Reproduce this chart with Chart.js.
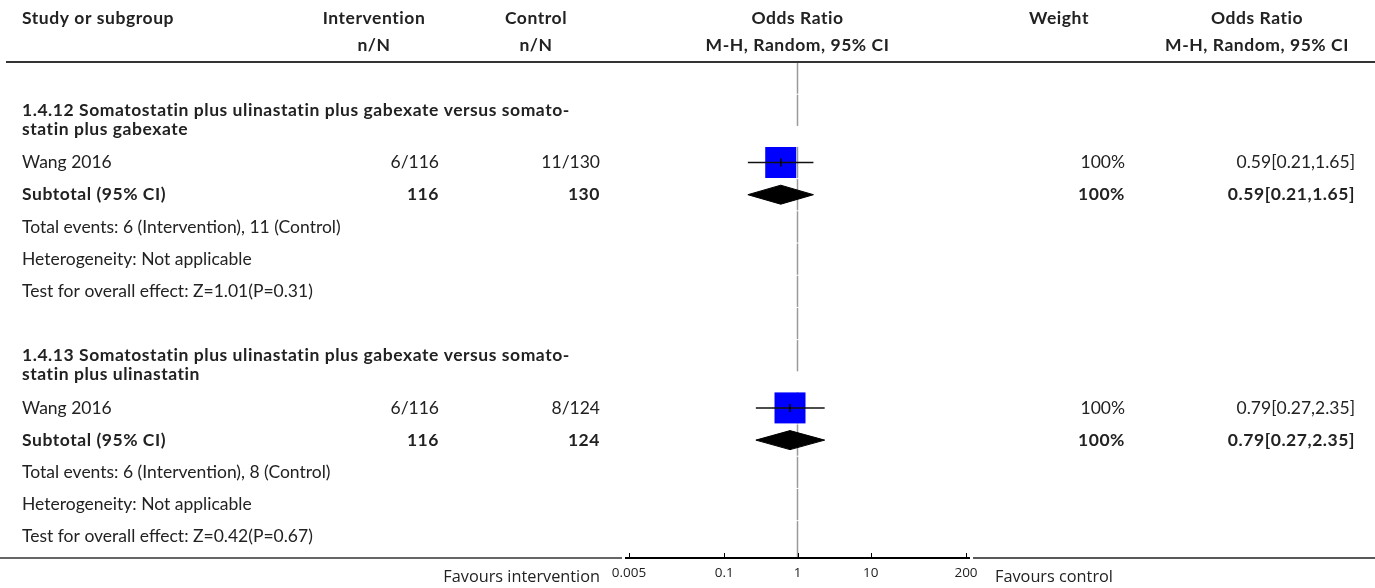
<!DOCTYPE html>
<html>
<head>
<meta charset="utf-8">
<script src="https://cdn.jsdelivr.net/npm/chart.js@4.4.0/dist/chart.umd.min.js"></script>
<style>
  html, body { margin: 0; padding: 0; background: #fff; }
  #wrap { width: 1375px; height: 588px; }
</style>
</head>
<body>
<div id="wrap"><canvas id="chart" width="1375" height="588"></canvas></div>
<script>
// forest plot data
const groupTitles = [
  ["1.4.12 Somatostatin plus ulinastatin plus gabexate versus somato-", "statin plus gabexate"],
  ["1.4.13 Somatostatin plus ulinastatin plus gabexate versus somato-", "statin plus ulinastatin"]
];
const studyNames = ["Wang 2016", "Wang 2016"];
const eventsInt = [6, 6];
const totalInt = [116, 116];
const eventsCtl = [11, 8];
const totalCtl = [130, 124];
const oddsRatio = [0.59, 0.79];
const ciLow = [0.21, 0.27];
const ciHigh = [1.65, 2.35];
const weights = [100, 100];
const subtotalOR = [0.59, 0.79];
const subtotalLow = [0.21, 0.27];
const subtotalHigh = [1.65, 2.35];
const zValues = ["1.01", "0.42"];
const pValues = ["0.31", "0.67"];
const heterogeneity = ["Not applicable", "Not applicable"];
const xTicks = [0.005, 0.1, 1, 10, 200];

// layout of the rows (row units), built from the groups
const ROW_KINDS = ["study", "subtotal", "events", "het", "test"];
const rows = [];
let pos = 0;
groupTitles.forEach((t, g) => {
  for (let k = 0; k < 2; k++) { rows.push({ kind: "blank", g, top: pos, mid: pos + 0.5, bottom: pos + 1 }); pos += 1; }
  rows.push({ kind: "title", g, top: pos, mid: pos + 0.31, bottom: pos + 0.62 }); pos += 0.62;
  ROW_KINDS.forEach(kind => { rows.push({ kind, g, top: pos, mid: pos + 0.5, bottom: pos + 1 }); pos += 1; });
});
const yMax = pos + 0.16;
rows[rows.length - 1].bottom = yMax;
const rowOf = (g, kind) => rows.find(r => r.g === g && r.kind === kind);
const studyY = groupTitles.map((t, g) => rowOf(g, "study").mid);
const subY = groupTitles.map((t, g) => rowOf(g, "subtotal").mid);

const FONT = 'Lato, "Noto Sans", sans-serif';
const AXIS_FONT = '"Open Sans", "Noto Sans", sans-serif';
const FS = 17.5;
const TXT = "#222";
const COL = { study: 22, intC: 374, intR: 439, ctlC: 536, ctlR: 600, wtC: 1059, wtR: 1125, orC: 1257, orR: 1355 };
const DIAMOND_H = 0.295;
const SQUARE_SIDE = 31;

const fmtCI = (o, l, h) => o.toFixed(2) + "[" + l.toFixed(2) + "," + h.toFixed(2) + "]";

const datasets = [];
groupTitles.forEach((t, g) => {
  datasets.push({
    label: "subtotal " + g,
    data: [
      { x: subtotalLow[g], y: subY[g] },
      { x: subtotalOR[g], y: subY[g] - DIAMOND_H },
      { x: subtotalHigh[g], y: subY[g] },
      { x: subtotalOR[g], y: subY[g] + DIAMOND_H },
      { x: subtotalLow[g], y: subY[g] }
    ],
    showLine: true, fill: "shape", tension: 0,
    backgroundColor: "#000", borderColor: "#000", borderWidth: 1,
    pointRadius: 0, order: 4
  });
  datasets.push({
    label: "ci " + g,
    data: [{ x: ciLow[g], y: studyY[g] }, { x: ciHigh[g], y: studyY[g] }],
    showLine: true, borderColor: "#111", borderWidth: 1.5, pointRadius: 0, order: 2
  });
});
datasets.push({
  label: "studies",
  data: oddsRatio.map((v, i) => ({ x: v, y: studyY[i] })),
  pointStyle: "rect",
  pointRadius: weights.map(w => (SQUARE_SIDE * Math.sqrt(w / 100) / 2) / Math.SQRT1_2),
  pointBackgroundColor: "#0000ff", pointBorderWidth: 0, order: 3
});
datasets.push({
  label: "estimate",
  data: oddsRatio.map((v, i) => ({ x: v, y: studyY[i] })),
  pointStyle: "line", pointRotation: 90, pointRadius: 4,
  pointBorderColor: "#000", pointBorderWidth: 1.5, order: 1
});

function txt(ctx, s, x, y, align, bold, size, family) {
  ctx.font = (bold ? "bold " : "") + size + "px " + (family || FONT);
  ctx.letterSpacing = bold ? "0.55px" : "0px";
  ctx.textAlign = align;
  ctx.textBaseline = "middle";
  ctx.fillStyle = TXT;
  ctx.fillText(s, x, y);
}

function hline(ctx, x1, x2, y, w, c) {
  ctx.beginPath();
  ctx.lineWidth = w;
  ctx.strokeStyle = c;
  ctx.moveTo(x1, y);
  ctx.lineTo(x2, y);
  ctx.stroke();
}

const forestPlugin = {
  id: "forest",
  beforeDatasetsDraw(chart) {
    const { ctx, scales: { x, y } } = chart;
    const px = x.getPixelForValue(1);
    ctx.save();
    ctx.strokeStyle = "#9a9a9a";
    ctx.lineWidth = 1.5;
    rows.forEach(r => {
      if (r.kind === "title") return;
      ctx.beginPath();
      ctx.moveTo(px, y.getPixelForValue(r.top) + 0.5);
      ctx.lineTo(px, y.getPixelForValue(r.bottom) - 0.5);
      ctx.stroke();
    });
    ctx.restore();
  },
  afterDraw(chart) {
    const { ctx, chartArea: a, scales: { x, y } } = chart;
    const mid = (a.left + a.right) / 2;
    ctx.save();
    // header
    const h1 = 18.5, h2 = 45;
    txt(ctx, "Study or subgroup", COL.study, h1, "left", true, FS);
    txt(ctx, "Intervention", COL.intC, h1, "center", true, FS);
    txt(ctx, "n/N", COL.intC, h2, "center", true, FS);
    txt(ctx, "Control", COL.ctlC, h1, "center", true, FS);
    txt(ctx, "n/N", COL.ctlC, h2, "center", true, FS);
    txt(ctx, "Odds Ratio", mid, h1, "center", true, FS);
    txt(ctx, "M-H, Random, 95% CI", mid, h2, "center", true, FS);
    txt(ctx, "Weight", COL.wtC, h1, "center", true, FS);
    txt(ctx, "Odds Ratio", COL.orC, h1, "center", true, FS);
    txt(ctx, "M-H, Random, 95% CI", COL.orC, h2, "center", true, FS);
    hline(ctx, 6, 1375, a.top, 2, "#333");

    groupTitles.forEach((title, g) => {
      const tr = y.getPixelForValue(rowOf(g, "title").mid) - 7.5;
      txt(ctx, title[0], COL.study, tr - 18.5, "left", true, FS);
      txt(ctx, title[1], COL.study, tr, "left", true, FS);

      const ys = y.getPixelForValue(studyY[g]);
      txt(ctx, studyNames[g], COL.study, ys, "left", false, FS);
      txt(ctx, eventsInt[g] + "/" + totalInt[g], COL.intR, ys, "right", false, FS);
      txt(ctx, eventsCtl[g] + "/" + totalCtl[g], COL.ctlR, ys, "right", false, FS);
      txt(ctx, weights[g] + "%", COL.wtR, ys, "right", false, FS);
      txt(ctx, fmtCI(oddsRatio[g], ciLow[g], ciHigh[g]), COL.orR, ys, "right", false, FS);

      const yb = y.getPixelForValue(subY[g]);
      txt(ctx, "Subtotal (95% CI)", COL.study, yb, "left", true, FS);
      txt(ctx, String(totalInt[g]), COL.intR, yb, "right", true, FS);
      txt(ctx, String(totalCtl[g]), COL.ctlR, yb, "right", true, FS);
      txt(ctx, weights[g] + "%", COL.wtR, yb, "right", true, FS);
      txt(ctx, fmtCI(subtotalOR[g], subtotalLow[g], subtotalHigh[g]), COL.orR, yb, "right", true, FS);

      txt(ctx, "Total events: " + eventsInt[g] + " (Intervention), " + eventsCtl[g] + " (Control)",
        COL.study, y.getPixelForValue(rowOf(g, "events").mid), "left", false, FS);
      txt(ctx, "Heterogeneity: " + heterogeneity[g], COL.study, y.getPixelForValue(rowOf(g, "het").mid), "left", false, FS);
      txt(ctx, "Test for overall effect: Z=" + zValues[g] + "(P=" + pValues[g] + ")",
        COL.study, y.getPixelForValue(rowOf(g, "test").mid), "left", false, FS);
    });

    // bottom rule and axis
    const by = a.bottom;
    hline(ctx, 0, a.left - 7, by, 1.5, "#333");
    hline(ctx, a.right + 7, 1375, by, 1.5, "#222");
    hline(ctx, a.left - 4, a.right + 4, by, 2, "#000");
    ctx.lineWidth = 1;
    ctx.strokeStyle = "#000";
    xTicks.forEach(t => {
      const px = Math.round(x.getPixelForValue(t)) + 0.5;
      ctx.beginPath();
      ctx.moveTo(px, by);
      ctx.lineTo(px, by - 5);
      ctx.stroke();
    });
    txt(ctx, "Favours intervention", a.left - 29, 577, "right", false, 16.3, AXIS_FONT);
    txt(ctx, "Favours control", a.right + 29, 577, "left", false, 16.3, AXIS_FONT);
    ctx.restore();
  }
};

new Chart(document.getElementById("chart"), {
  type: "scatter",
  data: { datasets },
  options: {
    responsive: false,
    devicePixelRatio: 1,
    animation: false,
    events: [],
    layout: { padding: { left: 629, right: 409, top: 62, bottom: 0 } },
    plugins: { legend: { display: false }, tooltip: { enabled: false } },
    scales: {
      x: {
        type: "logarithmic",
        min: xTicks[0],
        max: xTicks[xTicks.length - 1],
        grid: { display: false, drawTicks: false },
        border: { display: false },
        afterBuildTicks: s => { s.ticks = xTicks.map(v => ({ value: v })); },
        afterFit: s => { s.height = 30; },
        ticks: {
          autoSkip: false, maxRotation: 0, padding: 7,
          font: { family: AXIS_FONT, size: 13.5 }, color: "#222",
          callback: v => String(v)
        }
      },
      y: { type: "linear", min: 0, max: yMax, reverse: true, display: false }
    }
  },
  plugins: [forestPlugin]
});
</script>
</body>
</html>
